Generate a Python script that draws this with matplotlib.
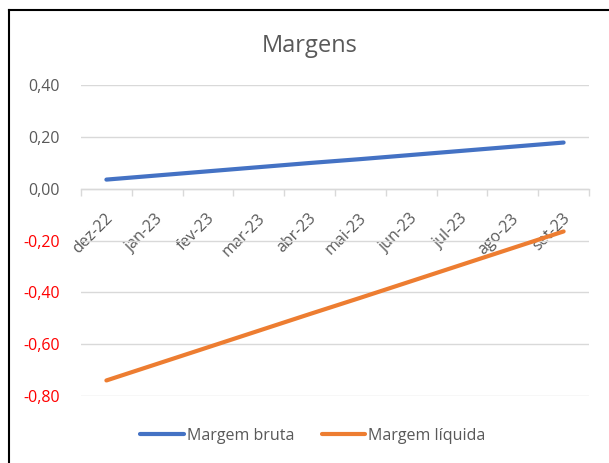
import matplotlib.pyplot as plt
from matplotlib.lines import Line2D
from matplotlib.ticker import FixedLocator, FuncFormatter
from matplotlib.transforms import ScaledTranslation

plt.rcParams['font.family'] = ['Open Sans', 'DejaVu Sans']

meses = ['dez-22', 'jan-23', 'fev-23', 'mar-23', 'abr-23',
         'mai-23', 'jun-23', 'jul-23', 'ago-23', 'set-23']
margem_bruta = [0.035, 0.051, 0.067, 0.083, 0.099, 0.114, 0.130, 0.146, 0.162, 0.178]
margem_liquida = [-0.740, -0.676, -0.612, -0.548, -0.484, -0.421, -0.357, -0.293, -0.229, -0.165]
y_ticks = [0.40, 0.20, 0.00, -0.20, -0.40, -0.60, -0.80]

W, H = 609, 463
fig = plt.figure(figsize=(W / 100, H / 100), dpi=100)
ax = fig.add_axes([81 / W, 1 - 396 / H, (589 - 81) / W, (396 - 85) / H])

x = list(range(len(meses)))
ax.plot(x, margem_bruta, color='#4472C4', lw=3, solid_capstyle='round', label='Margem bruta')
ax.plot(x, margem_liquida, color='#ED7D31', lw=3, solid_capstyle='round', label='Margem líquida')

ax.set_xlim(-0.5, len(meses) - 0.5)
ax.set_ylim(-0.8, 0.4)
ax.set_yticks(y_ticks)
ax.yaxis.set_major_formatter(FuncFormatter(lambda v, p: ('%.2f' % v).replace('.', ',').replace('-0,00', '0,00')))
ax.grid(axis='y', color='#D9D9D9', lw=1)
ax.set_axisbelow(True)
for s in ['top', 'right', 'left']:
    ax.spines[s].set_visible(False)
ax.spines['bottom'].set_position(('data', 0))
ax.spines['bottom'].set_color('#D9D9D9')
ax.spines['bottom'].set_linewidth(1)
ax.tick_params(axis='y', length=0, pad=15, labelsize=11.5, labelcolor='#595959')
for lab, v in zip(ax.get_yticklabels(), y_ticks):
    if v < 0:
        lab.set_color('#FF0000')

# rótulos no centro das categorias, marcas nos limites
ax.set_xticks(x)
ax.set_xticklabels(meses, rotation=45, ha='right', va='center', rotation_mode='anchor',
                   fontsize=11.5, color='#595959')
ax.tick_params(axis='x', which='major', length=0, pad=17)
shift = ScaledTranslation(4 / 100, -4 / 100, fig.dpi_scale_trans)
for lab in ax.get_xticklabels():
    lab.set_transform(lab.get_transform() + shift)
ax.xaxis.set_minor_locator(FixedLocator([i - 0.5 for i in range(len(meses) + 1)]))
ax.tick_params(axis='x', which='minor', length=5, color='#D9D9D9', width=1)

fig.text(310 / W, 1 - 52 / H, 'Margens', fontsize=17, color='#595959', ha='center', va='baseline')

fig.legend(loc='center', bbox_to_anchor=(313 / W, 1 - 436 / H), ncol=2, frameon=False,
           fontsize=11.5, handlelength=2.7, handletextpad=0.2, columnspacing=1.75,
           labelcolor='#595959')

fig.add_artist(Line2D([9 / W, 9 / W], [0, 1 - 10 / H], color='black', lw=1.5))
fig.add_artist(Line2D([9 / W, 1], [1 - 10 / H, 1 - 10 / H], color='black', lw=1.5))

fig.savefig('out.png', dpi=100)
